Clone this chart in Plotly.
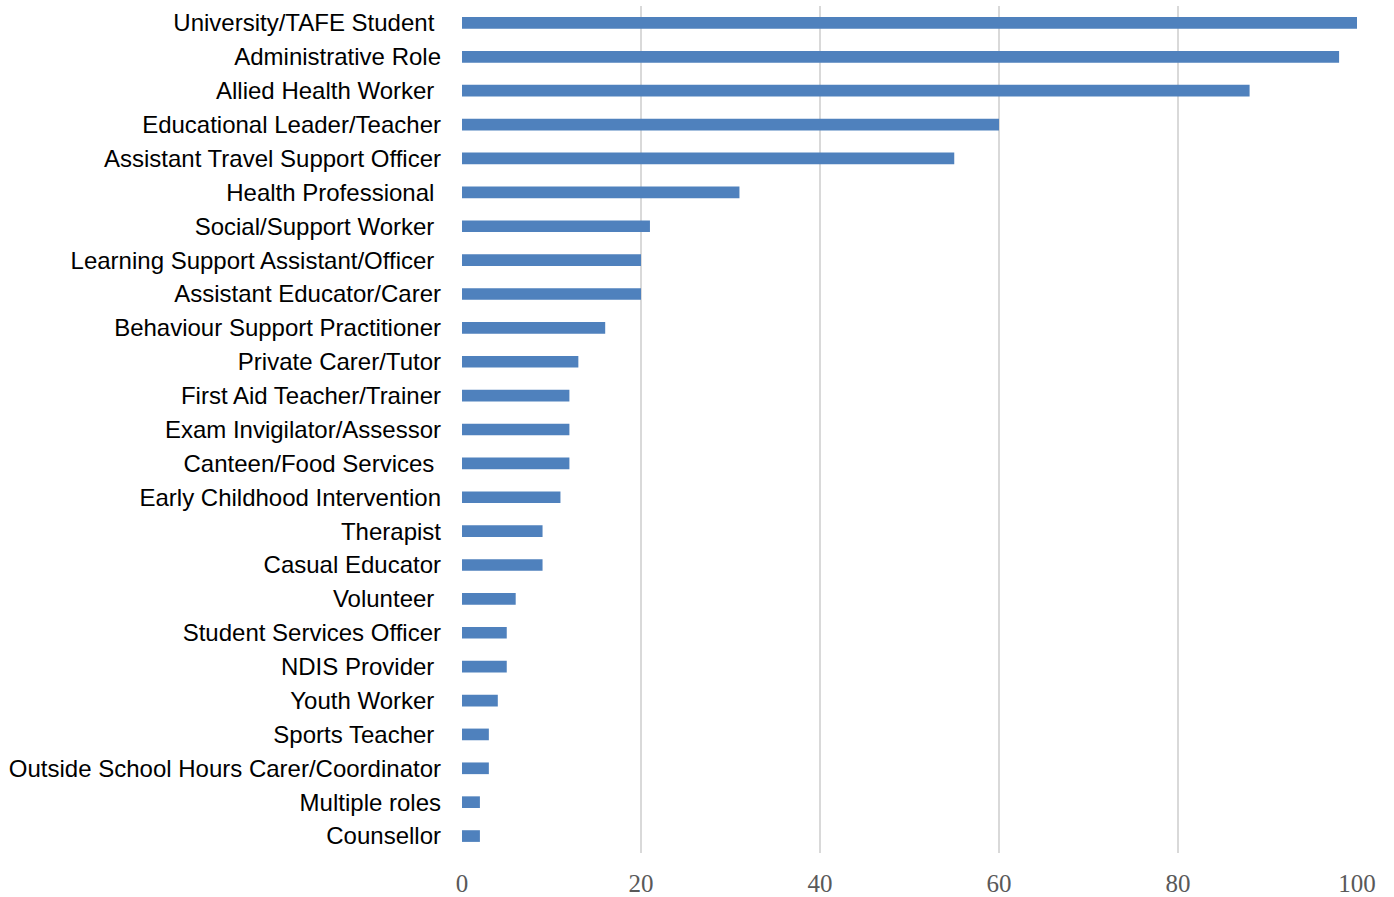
import plotly.graph_objects as go

# Roles, listed top to bottom
roles = [
    "University/TAFE Student\u00a0",
    "Administrative Role",
    "Allied Health Worker\u00a0",
    "Educational Leader/Teacher",
    "Assistant Travel Support Officer",
    "Health Professional\u00a0",
    "Social/Support Worker\u00a0",
    "Learning Support Assistant/Officer\u00a0",
    "Assistant Educator/Carer",
    "Behaviour Support Practitioner",
    "Private Carer/Tutor",
    "First Aid Teacher/Trainer",
    "Exam Invigilator/Assessor",
    "Canteen/Food Services\u00a0",
    "Early Childhood Intervention",
    "Therapist",
    "Casual Educator",
    "Volunteer\u00a0",
    "Student Services Officer",
    "NDIS Provider\u00a0",
    "Youth Worker\u00a0",
    "Sports Teacher\u00a0",
    "Outside School Hours Carer/Coordinator",
    "Multiple roles",
    "Counsellor",
]
counts = [100, 98, 88, 60, 55, 31, 21, 20, 20, 16, 13, 12, 12, 12, 11,
          9, 9, 6, 5, 5, 4, 3, 3, 2, 2]
x_ticks = [0, 20, 40, 60, 80, 100]

fig = go.Figure(
    go.Bar(
        x=counts,
        y=roles,
        orientation="h",
        marker=dict(color="#4f81bd", line=dict(width=0)),
    )
)

fig.update_layout(
    width=1394,
    height=897,
    margin=dict(l=462, r=37, t=6, b=44),
    paper_bgcolor="white",
    plot_bgcolor="white",
    bargap=0.655,
    showlegend=False,
    xaxis=dict(
        range=[0, 100],
        tickvals=x_ticks,
        showgrid=True,
        gridcolor="#d9d9d9",
        gridwidth=2,
        zeroline=False,
        showline=False,
        automargin=False,
        tickfont=dict(family="Liberation Serif, DejaVu Serif, serif", size=25, color="#595959"),
        ticklabelstandoff=13,
    ),
    yaxis=dict(
        categoryorder="array",
        categoryarray=roles[::-1],
        showgrid=False,
        zeroline=False,
        showline=False,
        automargin=False,
        tickfont=dict(family="Liberation Sans, Arial, sans-serif", size=24, color="black"),
        ticklabelstandoff=20,
    ),
)

fig.write_html("out.html")
